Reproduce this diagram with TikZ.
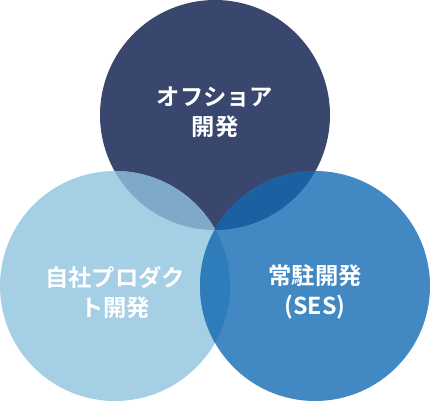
\documentclass[tikz,border=0pt]{standalone}
\usepackage{fontspec}
\newfontfamily\jp{Noto Sans CJK JP}[BoldFont={Noto Sans CJK JP Bold}]
\definecolor{cTop}{HTML}{39466E}
\definecolor{cLeft}{HTML}{A5CFE4}
\definecolor{cRight}{HTML}{4288C2}
\definecolor{cTL}{HTML}{7EA9C8}
\definecolor{cTR}{HTML}{1B61A2}
\definecolor{cLR}{HTML}{2E7DBA}
\begin{document}
\begin{tikzpicture}[x=1pt,y=-1pt,
  lbl/.style={text=white,font=\jp\bfseries\fontsize{23.3}{30}\selectfont,align=center,inner sep=0pt}]
\useasboundingbox (0,0) rectangle (430,401);
\coordinate (T) at (215,115);
\coordinate (L) at (115,286);
\coordinate (R) at (315,286);
\fill[cTop] (T) circle (115);
\fill[cLeft] (L) circle (115);
\fill[cRight] (R) circle (115);
\begin{scope}
  \clip (T) circle (115);
  \fill[cTL] (L) circle (115);
\end{scope}
\begin{scope}
  \clip (T) circle (115);
  \fill[cTR] (R) circle (115);
\end{scope}
\begin{scope}
  \clip (L) circle (115);
  \fill[cLR] (R) circle (115);
\end{scope}
\node[lbl] (tt) at (215,112) {オフショア\\開発};
\node[lbl] (lt) at (115,292) {自社プロダク\\ト開発};
\node[lbl] (rt) at (315,292) {常駐開発\\(SES)};
\end{tikzpicture}
\end{document}
